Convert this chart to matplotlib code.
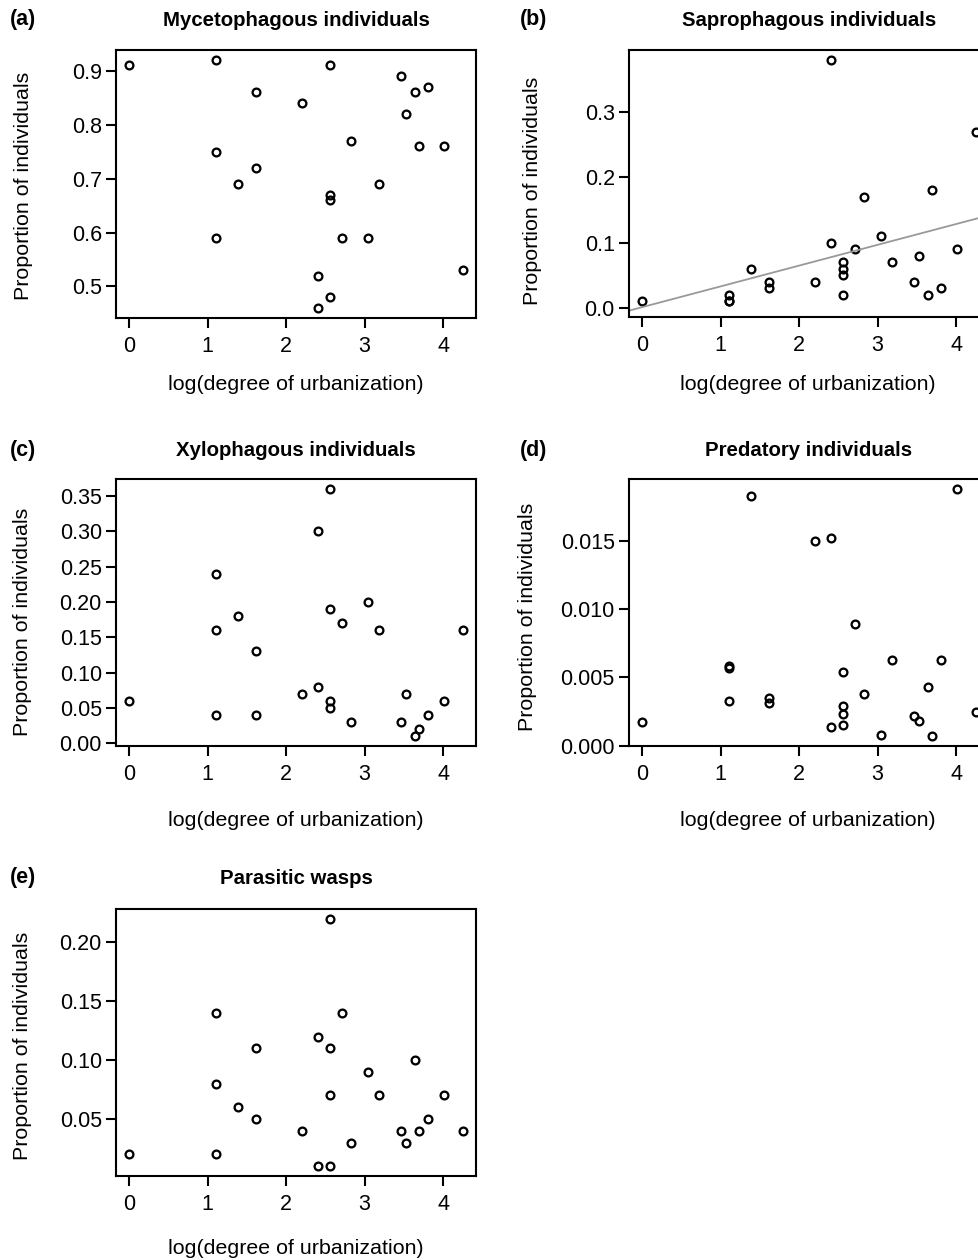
import matplotlib
matplotlib.use('Agg')
import matplotlib.pyplot as plt
from matplotlib.ticker import FormatStrFormatter

W, H = 979, 1260

# log(degree of urbanization) for the 25 sites
urb = [0.00, 1.10, 1.10, 1.10, 1.39, 1.61, 1.61, 2.20, 2.40, 2.40, 2.56, 2.56, 2.56,
       2.56, 2.71, 2.83, 3.04, 3.18, 3.47, 3.53, 3.64, 3.69, 3.81, 4.01, 4.25]

myceto = [0.91, 0.92, 0.75, 0.59, 0.69, 0.86, 0.72, 0.84, 0.52, 0.46, 0.91, 0.67, 0.66,
          0.48, 0.59, 0.77, 0.59, 0.69, 0.89, 0.82, 0.86, 0.76, 0.87, 0.76, 0.53]
sapro = [0.01, 0.02, 0.01, 0.01, 0.06, 0.04, 0.03, 0.04, 0.38, 0.10, 0.07, 0.06, 0.05,
         0.02, 0.09, 0.17, 0.11, 0.07, 0.04, 0.08, 0.02, 0.18, 0.03, 0.09, 0.27]
xylo = [0.06, 0.24, 0.16, 0.04, 0.18, 0.13, 0.04, 0.07, 0.30, 0.08, 0.36, 0.19, 0.06,
        0.05, 0.17, 0.03, 0.20, 0.16, 0.03, 0.07, 0.01, 0.02, 0.04, 0.06, 0.16]
preda = [0.0017, 0.0058, 0.0057, 0.0033, 0.0183, 0.0035, 0.0031, 0.0150, 0.0152, 0.0014,
         0.0054, 0.0029, 0.0023, 0.0015, 0.0089, 0.0038, 0.0008, 0.0063, 0.0022, 0.0018,
         0.0043, 0.0007, 0.0063, 0.0188, 0.0025]
wasps = [0.02, 0.14, 0.08, 0.02, 0.06, 0.11, 0.05, 0.04, 0.12, 0.01, 0.22, 0.11, 0.07,
         0.01, 0.14, 0.03, 0.09, 0.07, 0.04, 0.03, 0.10, 0.04, 0.05, 0.07, 0.04]

# fitted line for saprophagous individuals (intercept, slope)
sapro_fit = (0.0014, 0.0318)

x_ticks = [0, 1, 2, 3, 4]

plt.rcParams['font.family'] = ['Liberation Sans', 'DejaVu Sans']

fig = plt.figure(figsize=(W / 100, H / 100), dpi=100)

# letter, title, values, y ticks, y format, box (left, top, right, bottom px),
# letter x, title y, ylabel (x, y), xlabel y
panels = [
    ['(a)', 'Mycetophagous individuals', myceto, [0.5, 0.6, 0.7, 0.8, 0.9], '%.1f',
     (116, 50, 476, 318), 10, 20, (24, 186), 384],
    ['(b)', 'Saprophagous individuals', sapro, [0.0, 0.1, 0.2, 0.3], '%.1f',
     (629, 50, 989, 317), 520, 20, (533, 191), 384],
    ['(c)', 'Xylophagous individuals', xylo, [0, 0.05, 0.10, 0.15, 0.20, 0.25, 0.30, 0.35], '%.2f',
     (116, 479, 476, 746), 10, 450, (23, 622), 820],
    ['(d)', 'Predatory individuals', preda, [0, 0.005, 0.010, 0.015], '%.3f',
     (629, 479, 989, 746), 520, 450, (528, 617), 820],
    ['(e)', 'Parasitic wasps', wasps, [0.05, 0.10, 0.15, 0.20], '%.2f',
     (116, 909, 476, 1176), 10, 878, (23, 1046), 1249],
]

for letter, title, vals, yt, fmt, box, lx, ty, ylab, xly in panels:
    l, t, r, b = box
    ax = fig.add_axes([l / W, 1 - b / H, (r - l) / W, (b - t) / H])
    ax.plot(urb, vals, 'o', mfc='none', mec='black', ms=5.6, mew=1.65)
    ax.margins(x=0.04, y=0.04)
    if letter == '(b)':
        ax.axline((0, sapro_fit[0]), slope=sapro_fit[1], color='#999999', lw=1.3)

    ax.set_xticks(x_ticks)
    ax.set_yticks(yt)
    ax.yaxis.set_major_formatter(FormatStrFormatter(fmt))
    ax.tick_params(direction='out', length=7.2, width=1.5, labelsize=15.5, color='black')
    ax.tick_params(axis='x', pad=5.5)
    ax.tick_params(axis='y', pad=3)
    for s in ax.spines.values():
        s.set_linewidth(1.5)

    ax.set_xlabel('log(degree of urbanization)', fontsize=15.4)
    ax.xaxis.set_label_coords((l + r) / 2 / W if r < W else 295 / W + (l - 116) / W,
                              1 - xly / H, transform=fig.transFigure)
    ax.xaxis.label.set_va('center')
    ax.set_ylabel('Proportion of individuals', fontsize=15.4)
    ax.yaxis.set_label_coords(ylab[0] / W, 1 - ylab[1] / H, transform=fig.transFigure)
    ax.yaxis.label.set_va('center')

    ax.set_title(title, fontsize=14.7, fontweight='bold',
                 x=0.5, y=(b - ty) / (b - t), va='center', pad=0)
    fig.text(lx / W, 1 - ty / H, letter, fontsize=15.5, fontweight='bold',
             ha='left', va='center')

fig.savefig('out.png', dpi=100)
